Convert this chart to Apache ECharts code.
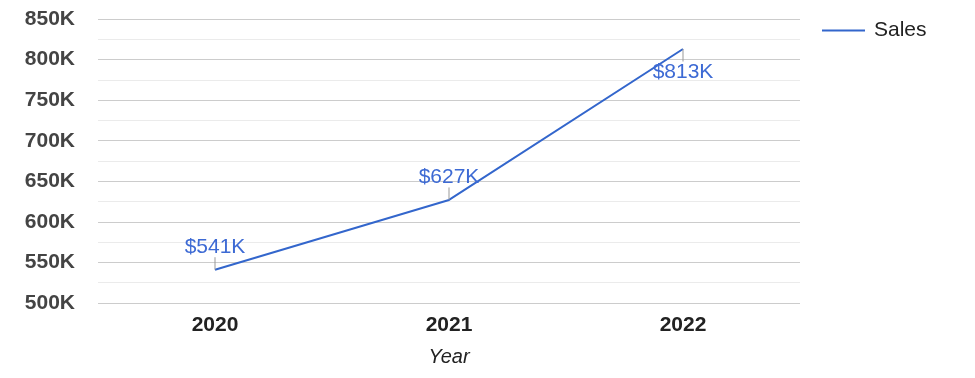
<!DOCTYPE html>
<html>
  <head>
    <meta http-equiv="Content-Type" content="text/html; charset=utf-8" />
    <title>Sales by Year</title>
    <style type="text/css">
    	body{margin:0;background:#fff;}
    	#chart1{width:975px;height:378px;}
    </style>
	<script type="text/javascript" src="https://cdn.jsdelivr.net/npm/echarts@6/dist/echarts.min.js"></script>
  </head>
  <body>
    <div id="chart1"></div>
  </body>
  <script type="text/javascript">
  	var years = ['2020', '2021', '2022'];		// x轴
  	var sales = [541000, 627000, 813000];		// y轴
  	var yTicks = [500000, 850000, 50000];		// min, max, interval

	var myChart = echarts.init(document.getElementById('chart1'));

	myChart.setOption({
		textStyle: {fontFamily: 'Liberation Sans, Arial, sans-serif'},
		legend: {
			data: ['Sales'],
			left: 817,
			top: 15,
			icon: 'rect',
			itemWidth: 43,
			itemHeight: 2,
			itemGap: 10,
			textStyle: {fontSize: 21, color: '#222', padding: [0, 0, 0, 4]}
		},
		grid: {left: 98, right: 175, top: 19, bottom: 75},
		xAxis: {
			type: 'category',
			data: years,
			name: 'Year',
			nameLocation: 'middle',
			nameGap: 44,
			nameTextStyle: {fontSize: 20, fontStyle: 'italic', color: '#222'},
			axisLine: {show: false},
			axisTick: {show: false},
			axisLabel: {fontSize: 21, fontWeight: 'bold', color: '#222', margin: 12}
		},
		yAxis: {
			type: 'value',
			min: yTicks[0],
			max: yTicks[1],
			interval: yTicks[2],
			axisLabel: {
				fontSize: 21, fontWeight: 'bold', color: '#444', margin: 23,
				formatter: function (v) { return v / 1000 + 'K'; }
			},
			splitLine: {lineStyle: {color: '#cccccc'}},
			minorTick: {show: false, splitNumber: 2},
			minorSplitLine: {show: true, lineStyle: {color: '#ebebeb'}}
		},
		series: [{
			name: 'Sales',
			type: 'line',
			data: sales,
			showSymbol: true,
			symbol: 'circle',
			symbolSize: 0.1,
			lineStyle: {color: '#3366cc', width: 2},
			itemStyle: {color: '#3366cc'},
			label: {
				show: true,
				position: 'inside',
				fontSize: 21,
				color: '#3d6ad4',
				formatter: function (p) { return '$' + Math.round(p.value / 1000) + 'K'; }
			},
			labelLayout: function (params) {
				return {dy: params.dataIndex === 2 ? 23 : -23};
			},
			labelLine: {show: true, lineStyle: {color: '#999', width: 1}}
		}]
	});
	</script>
</html>
